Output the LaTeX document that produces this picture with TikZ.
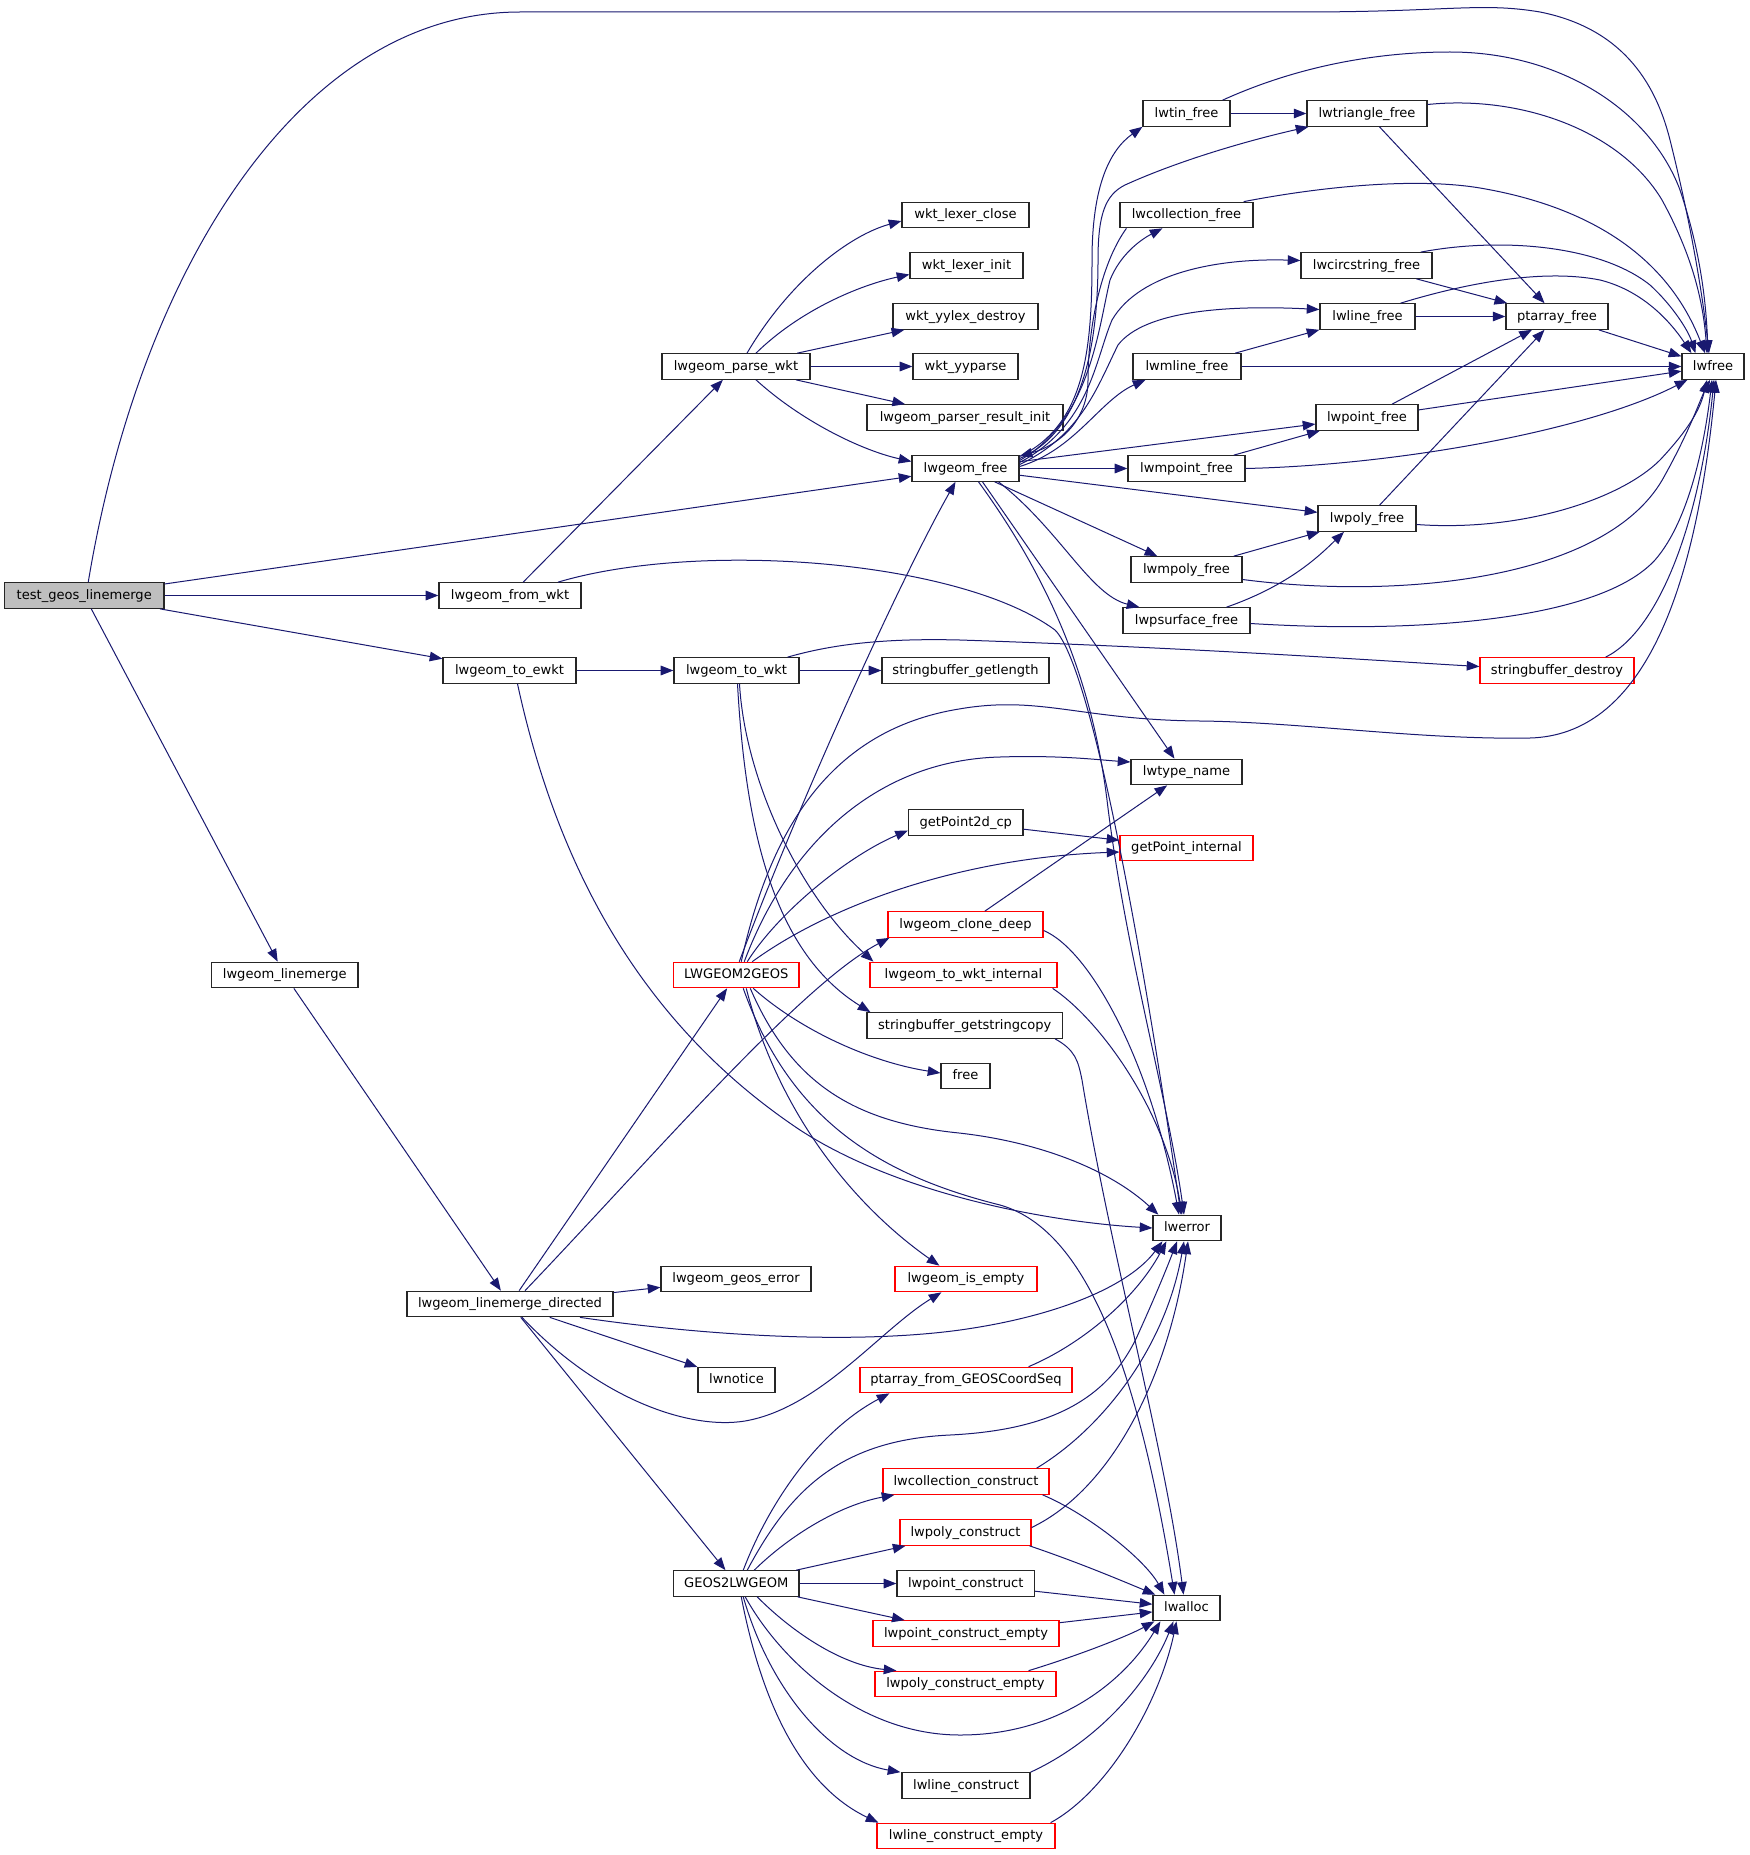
\documentclass[tikz,border=0pt]{standalone}
\usepackage{fontspec}
\setmainfont{DejaVu Sans}
\usetikzlibrary{arrows.meta,calc}
\definecolor{edgec}{HTML}{191970}
\definecolor{redb}{HTML}{FF0000}
\definecolor{greyf}{HTML}{BFBFBF}
\begin{document}
\begin{tikzpicture}[x=0.75pt,y=-0.75pt,
  nd/.style={draw=black!85, line width=0.9pt, rectangle, minimum height=25.5*0.75pt, inner sep=0pt,
    text height=7.8pt, text depth=2pt, font=\fontsize{9.8}{11}\selectfont, text=black},
  rnd/.style={nd, draw=redb},
  bw/.style={minimum width=#1*0.75pt},
  cn/.style={draw=edgec, line width=0.75pt, -{Triangle[length=9.5pt,width=7.2pt]}, edgec},
]
\useasboundingbox (0,0) rectangle (1749,1855);
\fill[white] (0,0) rectangle (1749,1855);

% ---------- nodes ----------
\node[nd,bw=159.5,fill=greyf] (tgl) at (84.25,595.5) {test\_geos\_linemerge};
\node[nd,bw=142] (fromwkt) at (510,595.5) {lwgeom\_from\_wkt};
\node[nd,bw=148] (parsewkt) at (736,366.5) {lwgeom\_parse\_wkt};
\node[nd,bw=133] (toewkt) at (509.5,670.5) {lwgeom\_to\_ewkt};
\node[nd,bw=125] (towkt) at (736.5,670.5) {lwgeom\_to\_wkt};
\node[nd,bw=146.5] (linemerge) at (284.75,975) {lwgeom\_linemerge};
\node[nd,bw=206] (lmd) at (510,1304) {lwgeom\_linemerge\_directed};
\node[rnd,bw=125.5] (l2g) at (736.25,975) {LWGEOM2GEOS};
\node[nd,bw=125.5] (g2l) at (736.25,1583.5) {GEOS2LWGEOM};
\node[nd,bw=150] (geoserr) at (736,1279) {lwgeom\_geos\_error};
\node[nd,bw=77] (lwnotice) at (736.5,1380) {lwnotice};

\node[nd,bw=127] (lexclose) at (965.5,215) {wkt\_lexer\_close};
\node[nd,bw=113] (lexinit) at (966.5,265.5) {wkt\_lexer\_init};
\node[nd,bw=145] (yylexd) at (965.5,316.5) {wkt\_yylex\_destroy};
\node[nd,bw=105] (yyparse) at (965.5,366.5) {wkt\_yyparse};
\node[nd,bw=196] (pri) at (965,417.5) {lwgeom\_parser\_result\_init};
\node[nd,bw=107] (lwgeomfree) at (965.5,468.5) {lwgeom\_free};
\node[nd,bw=167] (sbgetlen) at (965.5,670.5) {stringbuffer\_getlength};
\node[nd,bw=114.5] (gp2d) at (965.75,822.5) {getPoint2d\_cp};
\node[rnd,bw=155] (clone) at (965.5,924.5) {lwgeom\_clone\_deep};
\node[rnd,bw=187] (wktint) at (963.5,975) {lwgeom\_to\_wkt\_internal};
\node[nd,bw=195.5] (sbcopy) at (964.75,1025.5) {stringbuffer\_getstringcopy};
\node[nd,bw=49] (free) at (965.5,1076) {free};
\node[rnd,bw=142] (isempty) at (966,1279) {lwgeom\_is\_empty};
\node[rnd,bw=212] (ptfromgeos) at (966,1380) {ptarray\_from\_GEOSCoordSeq};
\node[rnd,bw=166] (collcons) at (966,1481.5) {lwcollection\_construct};
\node[rnd,bw=131] (polycons) at (965.5,1532.5) {lwpoly\_construct};
\node[nd,bw=137.5] (ptcons) at (965.75,1583.5) {lwpoint\_construct};
\node[rnd,bw=186] (ptconsempty) at (966,1633.5) {lwpoint\_construct\_empty};
\node[rnd,bw=181] (polyconsempty) at (965.5,1684) {lwpoly\_construct\_empty};
\node[nd,bw=128] (linecons) at (966,1785.5) {lwline\_construct};
\node[rnd,bw=178] (lineconsempty) at (966,1836) {lwline\_construct\_empty};

\node[nd,bw=87] (tinfree) at (1186.5,113.5) {lwtin\_free};
\node[nd,bw=133] (collfree) at (1186.5,215) {lwcollection\_free};
\node[nd,bw=108] (mlinefree) at (1187,366.5) {lwmline\_free};
\node[nd,bw=117] (mpointfree) at (1186.5,468.5) {lwmpoint\_free};
\node[nd,bw=111] (mpolyfree) at (1186.5,569.5) {lwmpoly\_free};
\node[nd,bw=127] (psurffree) at (1186.5,620.5) {lwpsurface\_free};
\node[nd,bw=111] (lwtype) at (1186.5,772) {lwtype\_name};
\node[rnd,bw=133] (gpint) at (1186.5,848) {getPoint\_internal};
\node[nd,bw=68] (lwerror) at (1187,1228) {lwerror};
\node[nd,bw=67] (lwalloc) at (1186.5,1608) {lwalloc};

\node[nd,bw=120] (trifree) at (1367,113.5) {lwtriangle\_free};
\node[nd,bw=131] (circfree) at (1366.5,265.5) {lwcircstring\_free};
\node[nd,bw=95] (linefree) at (1367.5,316.5) {lwline\_free};
\node[nd,bw=102] (pointfree) at (1367,417.5) {lwpoint\_free};
\node[nd,bw=98] (polyfree) at (1367,518.5) {lwpoly\_free};
\node[rnd,bw=154] (sbdestroy) at (1557,670.5) {stringbuffer\_destroy};
\node[nd,bw=102] (ptarrayfree) at (1557,316.5) {ptarray\_free};
\node[nd,bw=62] (lwfree) at (1713,366.5) {lwfree};

% ---------- edges ----------
% test_geos_linemerge
\draw[cn] ($(tgl.north)+(4,0)$) .. controls (140,270) and (300,12) .. (520,12) -- (1300,12)
  .. controls (1450,12) and (1480,2) .. (1540,12) .. controls (1620,28) and (1655,80) .. (1670,140)
  .. controls (1690,220) and (1702,290) .. ($(lwfree.north)+(-4,0)$);
\draw[cn] (tgl) -- (lwgeomfree);
\draw[cn] (tgl) -- (fromwkt);
\draw[cn] (tgl) -- (toewkt);
\draw[cn] (tgl) -- (linemerge);

% lwgeom_from_wkt
\draw[cn] (fromwkt) -- (parsewkt);
\draw[cn] ($(fromwkt.north)+(48,0)$) .. controls (700,540) and (960,560) .. (1055,630)
  .. controls (1095,670) and (1150,1000) .. ($(lwerror.north)+(-6,0)$);

% lwgeom_parse_wkt
\draw[cn] ($(parsewkt.north)+(11,0)$) .. controls (790,280) and (850,235) .. ($(lexclose.west)+(0,6)$);
\draw[cn] ($(parsewkt.north)+(20,0)$) .. controls (800,310) and (860,285) .. ($(lexinit.west)+(0,9)$);
\draw[cn] (parsewkt) -- (yylexd);
\draw[cn] (parsewkt) -- (yyparse);
\draw[cn] (parsewkt) -- (pri);
\draw[cn] ($(parsewkt.south)+(20,0)$) .. controls (800,420) and (860,450) .. ($(lwgeomfree.west)+(0,-7)$);

% lwgeom_to_ewkt
\draw[cn] (toewkt) -- (towkt);
\draw[cn] ($(toewkt.south)+(8,0)$) .. controls (560,880) and (650,1030) .. (800,1130)
  .. controls (900,1195) and (1050,1222) .. (lwerror.west);

% lwgeom_to_wkt
\draw[cn] (towkt) -- (sbgetlen);
\draw[cn] ($(towkt.north)+(51,0)$) .. controls (830,645) and (880,638) .. (960,640)
  .. controls (1200,648) and (1400,662) .. ($(sbdestroy.west)+(0,-4)$);
\draw[cn] ($(towkt.south)+(3,0)$) .. controls (745,780) and (800,895) .. ($(wktint.north west)+(4,0)$);
\draw[cn] ($(towkt.south)+(1,0)$) .. controls (745,820) and (770,950) .. ($(sbcopy.north west)+(4,0)$);

% lwgeom_free
\draw[cn] ($(lwgeomfree.east)+(0,-12)$) .. controls (1085,425) and (1092,350) .. (1092,260)
  .. controls (1092,185) and (1110,150) .. (tinfree.south west);
\draw[cn] ($(lwgeomfree.east)+(0,-10)$) .. controls (1088,430) and (1098,330) .. (1098,260)
  .. controls (1098,215) and (1105,195) .. (1125,185) .. controls (1180,160) and (1250,140) .. ($(trifree.south west)+(2,0)$);
\draw[cn] ($(lwgeomfree.east)+(0,-8)$) .. controls (1090,420) and (1098,330) .. (1110,280)
  .. controls (1120,255) and (1140,240) .. ($(collfree.south west)+(43,0)$);
\draw[cn] ($(collfree.south west)+(7,0)$) .. controls (1100,265) and (1088,330) .. (1088,380)
  .. controls (1088,420) and (1060,445) .. ($(lwgeomfree.north east)+(0,1)$);
\draw[cn] ($(lwgeomfree.east)+(0,-6)$) .. controls (1090,425) and (1095,360) .. (1112,320)
  .. controls (1140,272) and (1220,258) .. ($(circfree.west)+(0,-5)$);
\draw[cn] ($(lwgeomfree.east)+(0,-4)$) .. controls (1082,435) and (1098,385) .. (1118,345)
  .. controls (1145,310) and (1230,305) .. ($(linefree.west)+(0,-7)$);
\draw[cn] ($(lwgeomfree.east)+(0,-2)$) .. controls (1075,450) and (1100,400) .. ($(mlinefree.south west)+(13,0)$);
\draw[cn] (lwgeomfree) -- (pointfree);
\draw[cn] (lwgeomfree) -- (mpointfree);
\draw[cn] (lwgeomfree) -- (polyfree);
\draw[cn] (lwgeomfree) -- (mpolyfree);
\draw[cn] ($(lwgeomfree.south)+(33,0)$) .. controls (1060,530) and (1090,595) .. ($(psurffree.north west)+(17,0)$);
\draw[cn] ($(lwgeomfree.south)+(17,0)$) -- ($(lwtype.north)+(-12,0)$);
\draw[cn] ($(lwgeomfree.south)+(13,0)$) .. controls (1050,580) and (1092,680) .. (1107,800)
  .. controls (1125,950) and (1168,1100) .. ($(lwerror.north)+(-3,0)$);

% lwtin_free
\draw[cn] (tinfree) -- (trifree);
\draw[cn] ($(tinfree.north east)+(-8,0)$) .. controls (1300,65) and (1380,52) .. (1450,52)
  .. controls (1560,52) and (1650,110) .. (1680,190) .. controls (1700,250) and (1706,300) .. ($(lwfree.north)+(-5,0)$);

% lwtriangle_free
\draw[cn] ($(trifree.east)+(0,-9)$) .. controls (1520,95) and (1620,130) .. (1662,200)
  .. controls (1692,255) and (1703,300) .. ($(lwfree.north)+(-6,0)$);
\draw[cn] (trifree) -- (ptarrayfree);

% lwcollection_free
\draw[cn] ($(collfree.north east)+(-10,0)$) .. controls (1330,185) and (1420,178) .. (1480,188)
  .. controls (1580,205) and (1665,250) .. ($(lwfree.north)+(-8,0)$);

% lwcircstring_free
\draw[cn] ($(circfree.north east)+(-12,0)$) .. controls (1500,237) and (1600,245) .. (1650,285)
  .. controls (1672,305) and (1688,330) .. ($(lwfree.north west)+(14,0)$);
\draw[cn] (circfree) -- (ptarrayfree);

% lwline_free
\draw[cn] (linefree) -- (ptarrayfree);
\draw[cn] ($(linefree.north east)+(-15,0)$) .. controls (1460,285) and (1540,268) .. (1600,280)
  .. controls (1640,290) and (1668,318) .. ($(lwfree.north west)+(10,0)$);

% lwmline_free
\draw[cn] (mlinefree) -- (linefree);
\draw[cn] (mlinefree) -- (lwfree);

% lwpoint_free
\draw[cn] (pointfree) -- (ptarrayfree);
\draw[cn] (pointfree) -- (lwfree);

% lwmpoint_free
\draw[cn] (mpointfree) -- (pointfree);
\draw[cn] (mpointfree.east) .. controls (1400,465) and (1590,430) .. ($(lwfree.south west)+(6,0)$);

% lwpoly_free
\draw[cn] (polyfree) -- (ptarrayfree);
\draw[cn] ($(polyfree.east)+(0,6)$) .. controls (1520,532) and (1620,500) .. (1660,460)
  .. controls (1688,430) and (1700,410) .. ($(lwfree.south)+(-6,0)$);

% lwmpoly_free
\draw[cn] (mpolyfree) -- (polyfree);
\draw[cn] ($(mpolyfree.east)+(0,10)$) .. controls (1400,600) and (1610,580) .. (1665,475)
  .. controls (1690,430) and (1700,400) .. ($(lwfree.south)+(-3,0)$);

% lwpsurface_free
\draw[cn] ($(psurffree.north)+(40,0)$) .. controls (1290,585) and (1320,555) .. ($(polyfree.south)+(-23,0)$);
\draw[cn] ($(psurffree.east)+(0,3)$) .. controls (1420,634) and (1600,620) .. (1655,560)
  .. controls (1690,520) and (1705,440) .. ($(lwfree.south)+(-1,0)$);

% ptarray_free
\draw[cn] (ptarrayfree) -- (lwfree);

% stringbuffer_destroy
\draw[cn] ($(sbdestroy.north east)+(-29,0)$) .. controls (1660,630) and (1700,520) .. ($(lwfree.south)+(1,0)$);

% LWGEOM2GEOS
\draw[cn] ($(l2g.north)+(5,0)$) .. controls (770,830) and (830,730) .. (959,709)
  .. controls (1040,695) and (1080,720) .. (1200,721) .. controls (1300,722) and (1420,740) .. (1530,738)
  .. controls (1640,735) and (1695,600) .. ($(lwfree.south)+(3,0)$);
\draw[cn] ($(l2g.north)+(3,0)$) .. controls (800,800) and (900,580) .. ($(lwgeomfree.south)+(-10,0)$);
\draw[cn] ($(l2g.north)+(8,0)$) .. controls (790,840) and (880,760) .. (1000,757)
  .. controls (1060,755) and (1100,760) .. ($(lwtype.west)+(0,-10)$);
\draw[cn] ($(l2g.north)+(11,0)$) .. controls (780,910) and (850,855) .. ($(gp2d.west)+(0,8)$);
\draw[cn] ($(l2g.north)+(16,0)$) .. controls (830,905) and (960,858) .. ($(gpint.west)+(0,4)$);
\draw[cn] ($(l2g.south)+(17,0)$) .. controls (800,1030) and (870,1062) .. ($(free.west)+(0,-3)$);
\draw[cn] ($(l2g.south)+(14,0)$) .. controls (790,1080) and (850,1122) .. (959,1133)
  .. controls (1040,1142) and (1110,1170) .. ($(lwerror.north west)+(6,0)$);
\draw[cn] ($(l2g.south)+(7,0)$) .. controls (790,1120) and (880,1175) .. (1000,1205)
  .. controls (1070,1225) and (1130,1320) .. ($(lwalloc.north)+(-12,0)$);
\draw[cn] ($(l2g.south)+(10,0)$) .. controls (780,1120) and (860,1210) .. ($(isempty.north west)+(45,0)$);

% lwgeom_clone_deep
\draw[cn] (clone) -- (lwtype);
\draw[cn] ($(clone.east)+(0,6)$) .. controls (1090,950) and (1150,1060) .. ($(lwerror.north)+(-8,0)$);

% lwgeom_to_wkt_internal
\draw[cn] ($(wktint.south east)+(-5,0)$) .. controls (1100,1020) and (1165,1110) .. ($(lwerror.north)+(-5,0)$);

% stringbuffer_getstringcopy
\draw[cn] ($(sbcopy.south east)+(-8,0)$) .. controls (1075,1050) and (1078,1060) .. (1082,1080)
  .. controls (1110,1250) and (1165,1450) .. ($(lwalloc.north)+(-3,0)$);

% getPoint2d_cp
\draw[cn] (gp2d) -- (gpint);

% lwgeom_linemerge
\draw[cn] (linemerge) -- (lmd);

% lwgeom_linemerge_directed
\draw[cn] (lmd) -- (l2g);
\draw[cn] ($(lmd.north)+(15,0)$) .. controls (650,1160) and (800,985) .. ($(clone.south west)+(2,0)$);
\draw[cn] (lmd) -- (geoserr);
\draw[cn] ($(lmd.south)+(70,0)$) .. controls (700,1335) and (850,1345) .. (960,1330)
  .. controls (1060,1316) and (1130,1285) .. ($(lwerror.south west)+(10,0)$);
\draw[cn] (lmd) -- (lwnotice);
\draw[cn] ($(lmd.south)+(12,0)$) .. controls (600,1400) and (690,1430) .. (745,1421)
  .. controls (820,1408) and (880,1330) .. ($(isempty.south west)+(47,0)$);
\draw[cn] (lmd) -- (g2l);

% GEOS2LWGEOM
\draw[cn] ($(g2l.north)+(7,0)$) .. controls (770,1500) and (820,1430) .. ($(ptfromgeos.south west)+(30,0)$);
\draw[cn] ($(g2l.north)+(11,0)$) .. controls (790,1490) and (840,1440) .. (950,1435)
  .. controls (1050,1430) and (1110,1400) .. (1140,1330) .. controls (1158,1290) and (1168,1265) .. ($(lwerror.south)+(-10,0)$);
\draw[cn] ($(g2l.north)+(18,0)$) .. controls (790,1535) and (840,1505) .. ($(collcons.south west)+(12,0)$);
\draw[cn] (g2l) -- (polycons);
\draw[cn] (g2l) -- (ptcons);
\draw[cn] (g2l) -- (ptconsempty);
\draw[cn] ($(g2l.south)+(21,0)$) .. controls (790,1630) and (840,1665) .. ($(polyconsempty.north west)+(22,0)$);
\draw[cn] ($(g2l.south)+(9,0)$) .. controls (780,1660) and (860,1735) .. (960,1735)
  .. controls (1060,1735) and (1125,1680) .. ($(lwalloc.south west)+(8,0)$);
\draw[cn] ($(g2l.south)+(7,0)$) .. controls (770,1690) and (830,1760) .. ($(linecons.north west)+(-1,0)$);
\draw[cn] ($(g2l.south)+(5,0)$) .. controls (765,1720) and (810,1790) .. ($(lineconsempty.north west)+(2,0)$);

% ptarray_from_GEOSCoordSeq
\draw[cn] ($(ptfromgeos.north east)+(-44,0)$) .. controls (1080,1345) and (1135,1300) .. ($(lwerror.south west)+(14,0)$);

% lwcollection_construct
\draw[cn] ($(collcons.north east)+(-13,0)$) .. controls (1100,1430) and (1165,1350) .. ($(lwerror.south)+(-3,0)$);
\draw[cn] ($(collcons.south east)+(-7,0)$) .. controls (1090,1515) and (1145,1560) .. ($(lwalloc.north west)+(12,0)$);

% lwpoly_construct
\draw[cn] ($(polycons.east)+(0,-5)$) .. controls (1110,1490) and (1168,1380) .. ($(lwerror.south)+(1,0)$);
\draw[cn] ($(polycons.south east)+(-2,0)$) .. controls (1080,1563) and (1120,1580) .. ($(lwalloc.north west)+(3,0)$);

% lwpoint_construct / empty
\draw[cn] (ptcons) -- (lwalloc);
\draw[cn] (ptconsempty) -- (lwalloc);

% lwpoly_construct_empty
\draw[cn] ($(polyconsempty.north east)+(-28,0)$) .. controls (1080,1655) and (1130,1635) .. ($(lwalloc.south west)+(2,0)$);

% lwline_construct / empty
\draw[cn] (linecons.north east) .. controls (1100,1740) and (1150,1680) .. ($(lwalloc.south)+(-13,0)$);
\draw[cn] ($(lineconsempty.north east)+(-5,0)$) .. controls (1110,1790) and (1160,1700) .. ($(lwalloc.south)+(-10,0)$);
\end{tikzpicture}
\end{document}
